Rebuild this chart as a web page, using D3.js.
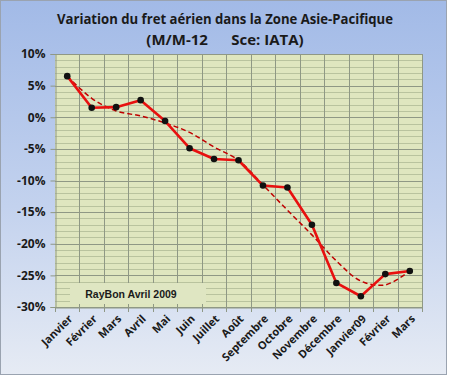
<!DOCTYPE html>
<html><head><meta charset="utf-8">
<script src="https://cdn.jsdelivr.net/npm/d3@7"></script>
<style>body{margin:0;background:#fff}svg{display:block}</style>
</head><body><svg id="c" width="450" height="378"></svg>
<script>
const categories = ["Janvier","Février","Mars","Avril","Mai","Juin","Juillet","Août","Septembre","Octobre","Novembre","Décembre","Janvier09","Février","Mars"];
const values = [6.5, 1.5, 1.6, 2.7, -0.6, -4.9, -6.6, -6.8, -10.8, -11.1, -17.0, -26.2, -28.3, -24.8, -24.3];
const trend = [6.5, 3.0, 1.0, 0.2, -0.9, -2.4, -4.7, -6.8, -10.7, -14.7, -18.6, -22.7, -25.9, -26.5, -24.3];
const yTicks = [10, 5, 0, -5, -10, -15, -20, -25, -30];
const title1 = "Variation du fret aérien dans la Zone Asie-Pacifique";
const title2 = "(M/M-12      Sce: IATA)";
const note = "RayBon Avril 2009";

const svg = d3.select("#c");
const W = 450, H = 378;
const defs = svg.append("defs");
const g = defs.append("linearGradient").attr("id","bg").attr("x1",0).attr("y1",0).attr("x2",0).attr("y2",1);
g.append("stop").attr("offset","0%").attr("stop-color","#a2bae7");
g.append("stop").attr("offset","55%").attr("stop-color","#c3d2ee");
g.append("stop").attr("offset","100%").attr("stop-color","#e6ebf4");
svg.append("rect").attr("x",0.5).attr("y",0.5).attr("width",W-4).attr("height",H-4)
  .attr("fill","url(#bg)").attr("stroke","#9aa3b0").attr("stroke-width",1);

const L = 55, R = 422, T = 54, B = 307;
const x = d3.scaleBand().domain(d3.range(categories.length)).range([L, R]);
const y = d3.scaleLinear().domain([-30, 10]).range([B, T]);

svg.append("rect").attr("x",L).attr("y",T).attr("width",R-L).attr("height",B-T).attr("fill","#dfe6bf");

// minor gridlines every 1%
const minor = d3.range(-30, 11, 1).filter(v => v % 5 !== 0);
svg.append("g").selectAll("line").data(minor).join("line")
  .attr("x1",L).attr("x2",R).attr("y1",d=>Math.round(y(d))+0.5).attr("y2",d=>Math.round(y(d))+0.5)
  .attr("stroke","#b9c39e").attr("stroke-width",1);
// major gridlines
svg.append("g").selectAll("line").data(yTicks).join("line")
  .attr("x1",L).attr("x2",R).attr("y1",d=>Math.round(y(d))+0.5).attr("y2",d=>Math.round(y(d))+0.5)
  .attr("stroke","#8f9885").attr("stroke-width",1);
// vertical gridlines
const bounds = d3.range(1, categories.length + 1).map(i => L + i * x.step());
svg.append("g").selectAll("line").data(bounds).join("line")
  .attr("x1",d=>Math.round(d)+0.5).attr("x2",d=>Math.round(d)+0.5).attr("y1",T).attr("y2",B)
  .attr("stroke","#8f9885").attr("stroke-width",1);

// note box
svg.append("rect").attr("x",70).attr("y",283).attr("width",136).attr("height",21).attr("fill","#dfe6c2");
svg.append("text").attr("x",131).attr("y",298).attr("text-anchor","middle")
  .attr("font-family","Liberation Sans, Arial, sans-serif").attr("font-weight","bold").attr("font-size",10.5)
  .attr("fill","#1a1a1a").text(note);

// axes
const yAxis = d3.axisLeft(y).tickValues(yTicks).tickSize(5).tickFormat(d => d + "%");
const ya = svg.append("g").attr("transform",`translate(${L+0.5},0)`).call(yAxis);
ya.select(".domain").attr("stroke","#8f9885");
ya.selectAll(".tick line").attr("stroke","#8f9885");
ya.selectAll("text").attr("font-family","Open Sans, Liberation Sans, sans-serif").attr("font-weight","bold")
  .attr("font-size",12).attr("fill","#1a1a1a").attr("x",-10);

const xAxis = d3.axisBottom(x).tickSize(0).tickFormat(i => categories[i]);
const xa = svg.append("g").attr("transform",`translate(0,${B+0.5})`).call(xAxis);
xa.select(".domain").attr("stroke","#8f9885");
xa.selectAll(".tick text")
  .attr("font-family","Open Sans, Liberation Sans, sans-serif").attr("font-weight","bold")
  .attr("font-size",11).attr("fill","#1a1a1a")
  .attr("text-anchor","end").attr("dy",0).attr("y",0)
  .attr("transform","translate(6,12) rotate(-45)");
svg.append("g").selectAll("line").data([L].concat(bounds)).join("line")
  .attr("x1",d=>Math.round(d)+0.5).attr("x2",d=>Math.round(d)+0.5).attr("y1",B).attr("y2",B+5)
  .attr("stroke","#8f9885");

const cx = i => x(i) + x.bandwidth()/2;
// trend
svg.append("path").datum(trend)
  .attr("d", d3.line().x((d,i)=>cx(i)).y(d=>y(d)).curve(d3.curveCatmullRom.alpha(0.5)))
  .attr("fill","none").attr("stroke","#c00000").attr("stroke-width",1.5).attr("stroke-dasharray","5,3");
// series
svg.append("path").datum(values)
  .attr("d", d3.line().x((d,i)=>cx(i)).y(d=>y(d)))
  .attr("fill","none").attr("stroke","#e8100f").attr("stroke-width",2.6).attr("stroke-linejoin","round");
svg.append("g").selectAll("circle").data(values).join("circle")
  .attr("cx",(d,i)=>cx(i)).attr("cy",d=>y(d)).attr("r",3.3).attr("fill","#111");

// titles
svg.append("text").attr("x",225).attr("y",24).attr("text-anchor","middle")
  .attr("font-family","Open Sans, Liberation Sans, sans-serif").attr("font-weight","bold").attr("font-size",15)
  .attr("fill","#1a1a1a").attr("textLength",336).attr("lengthAdjust","spacingAndGlyphs").text(title1);
svg.append("text").attr("x",225).attr("y",45).attr("text-anchor","middle").attr("xml:space","preserve")
  .attr("font-family","Open Sans, Liberation Sans, sans-serif").attr("font-weight","bold").attr("font-size",15)
  .attr("fill","#1a1a1a").style("white-space","pre").text(title2);
</script></body></html>
